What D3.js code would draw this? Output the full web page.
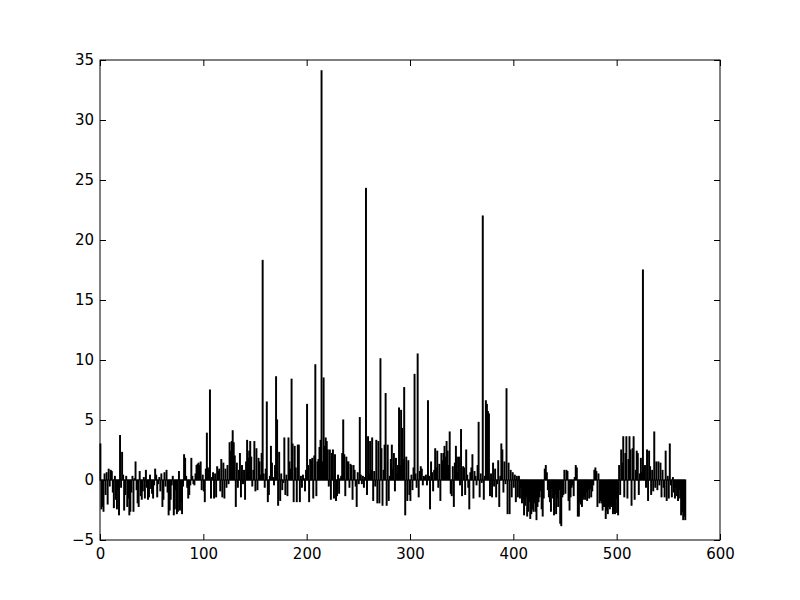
<!DOCTYPE html>
<html>
<head>
<meta charset="utf-8">
<script src="https://cdn.jsdelivr.net/npm/d3@7"></script>
<style>
  body { margin: 0; background: #fff; }
  svg { display: block; }
  .tick text { font-family: "DejaVu Sans", sans-serif; font-size: 15px; fill: #000; }
</style>
</head>
<body>
<svg id="chart"></svg>
<script>
// bar heights, one per index 0..566
const values = [
  3.0, -2.4, -2.2, -2.6, 0.5, -1.2, 0.6, -2.0, 0.9, -0.5,
  0.8, 0.7, -1.0, -2.3, 0.3, -1.6, -2.4, -0.8, -2.9, 3.7,
  -0.6, 2.3, 0.4, -2.5, -1.2, 0.3, -2.2, -1.5, -2.9, -2.6,
  -1.0, 0.3, -2.6, 0.1, 1.5, -0.8, -1.9, -2.2, 0.7, -1.3,
  -1.6, -0.9, 0.2, -1.5, 0.8, -0.6, -1.6, -1.4, 0.4, -0.7,
  -1.1, -1.5, -0.4, 0.9, 0.4, -1.4, -0.3, 0.2, -0.9, 0.5,
  -2.2, -1.6, 0.6, -0.5, 0.8, -1.0, -2.9, -2.5, -1.6, -0.4,
  0.3, -2.9, -2.4, -0.8, -2.8, -2.6, 0.7, -2.5, -1.8, -2.8,
  -0.5, 2.1, 1.8, 0.3, -0.6, -1.5, -1.2, -0.4, 1.8, 0.3,
  -0.3, -0.4, 0.5, 1.2, 1.3, 1.4, 1.2, 1.5, -0.8, 0.4,
  -0.9, -1.8, 0.9, 3.9, 1.0, 0.8, 7.5, -1.5, 0.2, 0.6,
  -1.5, 0.5, -1.4, 1.1, 0.7, 0.9, -0.9, 1.7, -1.4, 1.4,
  -1.5, 0.9, -0.6, 1.2, -0.3, 3.1, 2.4, 3.2, 4.1, 3.1,
  2.0, -2.2, 1.4, -0.6, 0.8, 2.2, -1.4, 1.2, -0.3, 0.8,
  -1.6, 1.5, 3.3, 1.8, 2.4, 3.2, 1.9, -0.5, 0.8, 3.2,
  -0.9, 2.6, -0.8, 1.8, 1.5, 0.4, 2.2, 18.3, 0.5, -0.6,
  0.9, 6.5, -1.8, -1.2, 0.3, 2.8, 1.4, 0.2, -0.4, 1.2,
  8.6, 5.0, -2.1, 2.3, -1.7, 0.5, -0.8, -0.2, 3.5, -1.2,
  0.4, -1.3, 3.5, 1.5, 0.9, 8.4, 3.0, -1.8, 2.8, 1.0,
  -1.8, 2.9, 2.9, -1.8, 0.3, -0.6, 0.4, 0.1, -0.9, 0.8,
  6.3, 1.2, -1.8, 1.7, 1.6, 1.8, -1.5, 2.0, 9.6, -1.3,
  1.5, 1.7, 2.7, 3.3, 34.1, 1.5, 8.5, 2.8, 3.5, 3.2,
  2.5, -0.5, 2.5, -1.6, 2.2, 2.5, -1.5, 2.1, -1.7, -1.3,
  0.4, -1.1, 0.1, 0.3, 2.2, 5.0, 2.1, -1.3, 1.9, 1.5,
  1.5, -0.6, 1.3, 1.2, -1.6, 1.2, 0.8, -0.5, -2.2, 0.6,
  -0.3, 5.2, 0.4, -0.3, 0.3, -0.6, 0.2, 24.3, -1.2, 3.6,
  0.5, 3.2, 0.8, 3.5, -1.7, 0.7, -0.5, 3.3, -1.9, 3.2,
  -1.9, 10.1, 2.6, -2.1, 0.8, 2.9, 7.2, -2.1, 2.9, -1.7,
  0.3, 1.7, 2.9, 0.9, 2.2, -0.9, 1.8, 0.5, 1.2, 6.0,
  1.2, 5.8, 4.3, 1.7, 7.7, -2.9, 1.9, -1.7, 1.6, -1.2,
  -1.7, 0.4, -0.8, 1.0, 8.8, 0.5, -0.6, 10.5, -1.4, 0.7,
  1.1, 0.9, -0.4, 0.3, 0.2, 0.4, -0.4, 6.6, 0.3, -2.4,
  1.5, 0.6, -0.9, 0.8, 2.6, 1.0, 2.4, -0.6, 1.3, -1.7,
  2.2, 1.6, 2.2, 2.8, 1.9, 3.2, 2.4, 1.2, 4.0, -1.1,
  -1.3, 1.1, -2.2, 1.4, 2.8, 1.9, 0.6, 1.9, -0.4, 4.2,
  -1.3, 1.1, 1.0, -1.2, 2.5, 0.4, -0.6, -2.4, 0.6, 1.0,
  2.1, -1.5, 0.7, 0.3, -0.4, 1.2, 4.8, -1.4, 0.5, -0.2,
  22.0, -1.6, 0.3, 6.6, 6.3, 5.7, 5.5, -1.3, 0.5, -1.4,
  1.4, -0.5, 0.9, -1.4, -0.3, 1.6, -2.2, 0.3, 3.0, 2.5,
  -1.0, 1.5, -0.3, 7.6, -2.8, 1.4, -2.8, 0.8, -1.4, 0.6,
  -0.6, 0.4, -1.8, 0.3, -1.4, 0.3, -1.5, -0.6, -1.9, -1.6,
  -2.9, -2.1, -1.4, -3.0, -2.6, -1.8, -3.2, -2.8, -2.4, -2.6,
  -1.9, -2.6, -3.3, -2.2, -1.8, -1.4, -0.9, -2.4, -3.0, -1.5,
  0.9, 1.2, 0.6, -0.8, -1.4, -1.8, -2.6, -0.7, -1.5, -2.9,
  -1.2, -2.8, -1.5, -2.2, -0.8, -3.6, -3.8, -1.4, -1.2, 0.8,
  -1.1, 0.8, 0.7, -1.7, -2.5, -1.4, -0.6, -0.4, -1.3, 0.2,
  1.2, 1.0, -3.0, -3.0, -1.8, -2.0, -2.2, -1.6, -1.3, -1.6,
  -1.0, -1.7, -0.8, -1.5, -0.7, -1.4, -0.9, -0.4, 0.8, 1.0,
  0.7, -2.2, 0.5, -1.9, -1.7, -1.9, -2.5, -2.2, -2.2, -3.2,
  -2.5, -2.8, -2.2, -2.4, -2.1, -2.2, -2.8, -2.6, -2.8, -1.5,
  -2.7, -2.9, 1.2, -1.2, 2.5, 1.4, 3.6, -1.4, 2.2, 3.6,
  -1.5, 1.7, 3.6, 2.5, -2.1, 2.6, 3.6, -1.6, 0.8, 2.4,
  2.2, -1.2, 0.5, 1.8, 0.6, 17.5, 1.0, 1.2, -0.6, 2.5,
  -1.7, 2.4, 1.1, -1.2, 0.8, -0.9, 4.0, -0.6, 1.5, -0.8,
  1.5, -0.4, 1.4, -1.4, 0.8, -0.6, -1.4, 2.4, -1.7, 0.3,
  -1.5, 3.0, -0.4, -1.4, 0.2, -1.0, -1.5, -0.6, -1.3, -1.7,
  -0.8, -1.5, -2.9, -2.6, -3.3, -3.0, -3.3
];
const xTicks = [0, 100, 200, 300, 400, 500, 600];
const yTicks = [-5, 0, 5, 10, 15, 20, 25, 30, 35];

var margin = { top: 60, right: 80, bottom: 60, left: 100 };
var width = 800 - margin.left - margin.right;
var height = 600 - margin.top - margin.bottom;
var barWidth = 0.8;

var svg = d3.select('#chart')
    .attr('width', 800)
    .attr('height', 600);

var chart = svg.append('g')
    .attr('transform', 'translate(' + margin.left + ',' + margin.top + ')');

var x = d3.scaleLinear().domain([0, 600]).range([0, width]);
var y = d3.scaleLinear().domain([-5, 35]).range([height, 0]);

chart.selectAll('.bar')
    .data(values)
    .enter().append('rect')
    .attr('class', 'bar')
    .attr('x', (d, i) => x(i))
    .attr('width', (d, i) => x(i + barWidth) - x(i))
    .attr('y', d => y(Math.max(0, d)))
    .attr('height', d => Math.abs(y(d) - y(0)))
    .attr('fill', '#000')
    .attr('stroke', '#000')
    .attr('stroke-width', 1.1);

// ticks point inward on every side, labels only left and bottom
var fmt = d3.format('d');
chart.append('g')
    .attr('transform', 'translate(0,' + height + ')')
    .call(d3.axisBottom(x).tickValues(xTicks).tickFormat(fmt).tickSizeInner(-6).tickSizeOuter(0).tickPadding(8));
chart.append('g')
    .call(d3.axisTop(x).tickValues(xTicks).tickFormat('').tickSizeInner(-6).tickSizeOuter(0));
chart.append('g')
    .call(d3.axisLeft(y).tickValues(yTicks).tickFormat(fmt).tickSizeInner(-6).tickSizeOuter(0).tickPadding(6));
chart.append('g')
    .attr('transform', 'translate(' + width + ',0)')
    .call(d3.axisRight(y).tickValues(yTicks).tickFormat('').tickSizeInner(-6).tickSizeOuter(0));

chart.selectAll('.domain').remove();
chart.selectAll('.tick line').attr('stroke', '#000');

chart.append('rect')
    .attr('width', width)
    .attr('height', height)
    .attr('fill', 'none')
    .attr('stroke', '#000')
    .attr('stroke-width', 1);
</script>
</body>
</html>
